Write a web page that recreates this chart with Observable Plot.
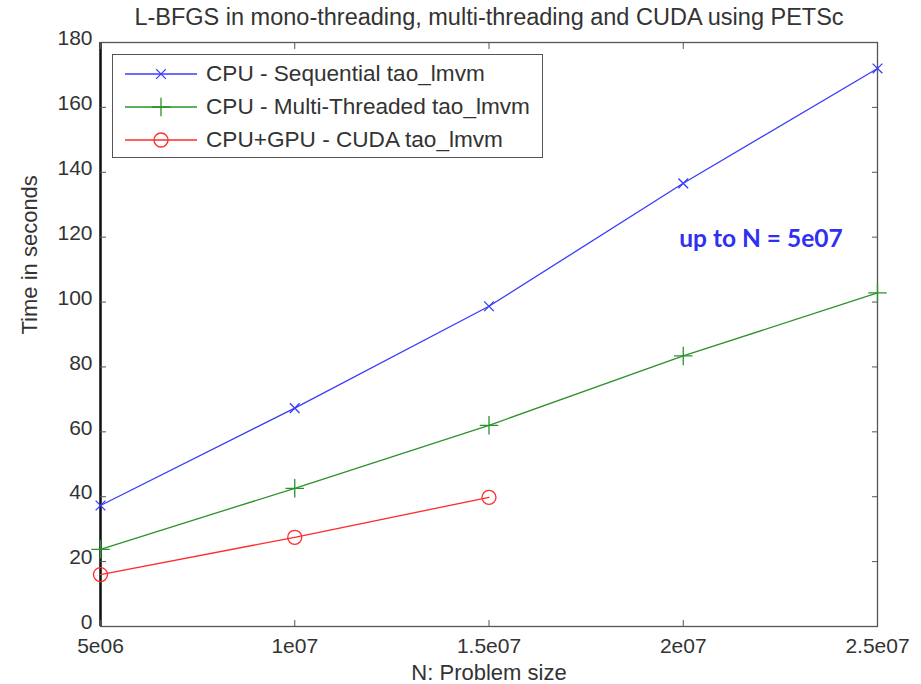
<!DOCTYPE html>
<html>
<head>
<meta charset="utf-8">
<script src="https://cdn.jsdelivr.net/npm/d3@7"></script>
<script src="https://cdn.jsdelivr.net/npm/@observablehq/plot@0.6"></script>
<style>
  html, body { margin: 0; padding: 0; background: #fff; }
  #wrap { position: relative; width: 921px; height: 684px; }
  #legend { position: absolute; left: 112px; top: 54px; width: 431px; height: 104px;
    border: 1.3px solid #555; background: #fff; box-sizing: border-box;
    font-family: "Liberation Sans", Arial, sans-serif; font-size: 22.6px; color: #333; }
  .row { position: absolute; left: 12px; height: 26px; display: flex; align-items: center; }
  .row svg { margin-right: 7px; }
</style>
</head>
<body>
<div id="wrap"><div id="legend"></div></div>
<script>
const title = "L-BFGS in mono-threading, multi-threading and CUDA using PETSc";
const xLabel = "N: Problem size";
const yLabel = "Time in seconds";
const N = [5e6, 1e7, 1.5e7, 2e7, 2.5e7];
const xTickLabels = ["5e06", "1e07", "1.5e07", "2e07", "2.5e07"];
const yTicks = [0, 20, 40, 60, 80, 100, 120, 140, 160, 180];
const seriesNames = ["CPU - Sequential tao_lmvm", "CPU - Multi-Threaded tao_lmvm", "CPU+GPU - CUDA tao_lmvm"];
const sequential = [37.3, 67.3, 98.7, 136.6, 172.0];
const multiThreaded = [23.8, 42.6, 62.0, 83.4, 102.8];
const cuda = [16.0, 27.5, 39.8];
const annotation = [{x: 2.2e7, y: 119.5, text: "up to N = 5e07"}];

const colors = ["#3a3aff", "#2a922a", "#ff2a2a"];
const symbols = ["times", "plus", "circle"];
const sizes = [4.5, 6, 7];
const values = [sequential, multiThreaded, cuda];

const rows = [];
values.forEach((vals, s) => vals.forEach((v, i) => rows.push({series: seriesNames[s], s, n: N[i], t: v})));

const font = '"Liberation Sans", Arial, sans-serif';

const marks = [
  Plot.frame({stroke: "#555", strokeWidth: 1.3}),
  Plot.ruleX([N[0]], {stroke: "#111", strokeWidth: 2.5}),
  // inward ticks
  Plot.axisX(N, {anchor: "bottom", text: null, tickSize: 6, dy: -6, stroke: "#555"}),
  Plot.axisX(N, {anchor: "top", text: null, tickSize: 6, dy: 6, stroke: "#555"}),
  Plot.axisY(yTicks, {anchor: "left", text: null, tickSize: 6, dx: 6, stroke: "#555"}),
  Plot.axisY(yTicks, {anchor: "right", text: null, tickSize: 6, dx: -6, stroke: "#555"}),
  // tick labels
  Plot.axisX(N, {anchor: "bottom", tickSize: 0, tickPadding: 12, tickFormat: (d, i) => xTickLabels[i],
    fontSize: 21, fill: "#333", label: null}),
  Plot.axisY(yTicks, {anchor: "left", tickSize: 0, tickPadding: 8, fontSize: 21, fill: "#333", dy: -4, label: null}),
  // axis titles
  Plot.text([xLabel], {frameAnchor: "bottom", dy: 46, lineAnchor: "middle", text: d => d, fontSize: 22, fill: "#333"}),
  Plot.text([yLabel], {frameAnchor: "left", dx: -71, rotate: -90, text: d => d, fontSize: 22, fill: "#333"}),
];
values.forEach((vals, s) => {
  const d = rows.filter(r => r.s === s);
  marks.push(Plot.line(d, {x: "n", y: "t", stroke: colors[s], strokeWidth: 1.3}));
  marks.push(Plot.dot(d, {x: "n", y: "t", stroke: colors[s], symbol: () => symbols[s], r: sizes[s], strokeWidth: 1.3, fill: "none"}));
});
marks.push(Plot.text(annotation, {x: "x", y: "y", text: "text", fill: "#3030f0", fontSize: 24.5, fontWeight: "bold",
  fontFamily: "Lato, 'Open Sans', sans-serif"}));
marks.push(Plot.text([title], {frameAnchor: "top", dy: -25, lineAnchor: "middle", text: d => d, fontSize: 23.5, fill: "#333"}));

const chart = Plot.plot({
  width: 921, height: 684,
  marginTop: 42, marginRight: 44, marginBottom: 58, marginLeft: 100,
  style: {fontFamily: font, background: "#fff"},
  x: {domain: [5e6, 2.5e7], axis: null},
  y: {domain: [0, 180], axis: null},
  symbol: {type: "identity"},
  marks
});
document.getElementById("wrap").prepend(chart);

// legend
const legend = document.getElementById("legend");
seriesNames.forEach((name, s) => {
  const row = document.createElement("div");
  row.className = "row";
  row.style.top = (6 + s * 33) + "px";
  const sw = d3.create("svg").attr("width", 74).attr("height", 26);
  sw.append("line").attr("x1", 0).attr("x2", 72).attr("y1", 13).attr("y2", 13).attr("stroke", colors[s]).attr("stroke-width", 1.3);
  const sym = d3.symbol(s === 0 ? d3.symbolTimes : s === 1 ? d3.symbolPlus : d3.symbolCircle, Math.PI * sizes[s] * sizes[s]);
  sw.append("path").attr("d", sym()).attr("transform", "translate(36,13)").attr("fill", "none").attr("stroke", colors[s]).attr("stroke-width", 1.3);
  row.appendChild(sw.node());
  const span = document.createElement("span");
  span.textContent = name;
  row.appendChild(span);
  legend.appendChild(row);
});
</script>
</body>
</html>
